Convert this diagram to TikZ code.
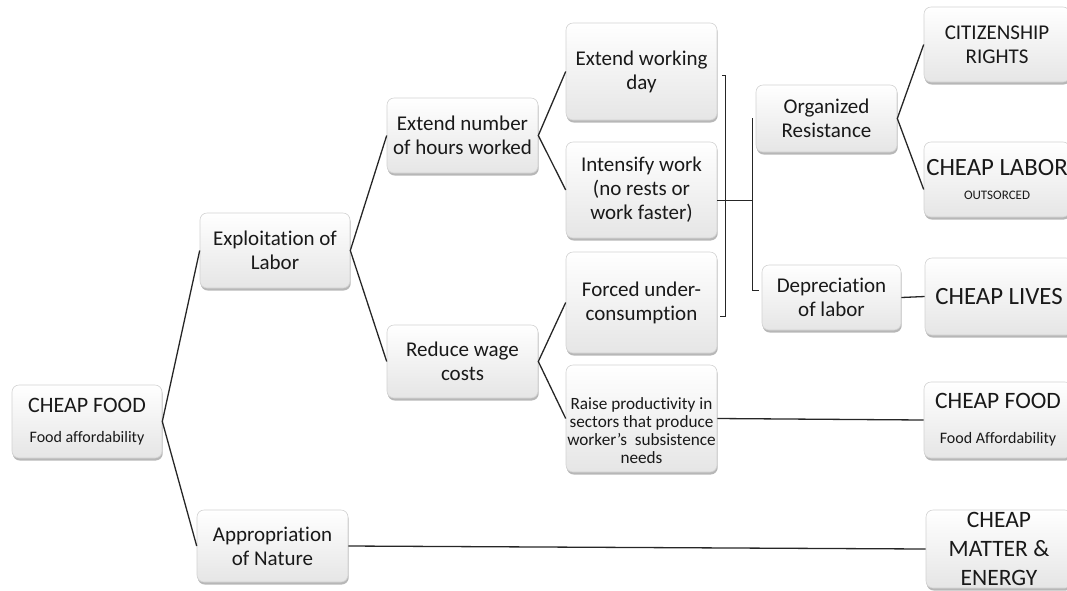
\documentclass[tikz,border=0pt]{standalone}
\usepackage{fontspec}
\setmainfont{Carlito}[Ligatures=NoCommon]
\usetikzlibrary{shadows}

\begin{document}
\begin{tikzpicture}[x=1pt,y=-1pt,
  box/.style={draw=gray!35, line width=0.6pt, rounded corners=7pt,
    top color=white, bottom color=gray!20,
    drop shadow={shadow xshift=0.7pt, shadow yshift=-2.5pt, opacity=0.4, fill=black!70},
    align=center, inner sep=0pt, text=black!90, font=\fontsize{21}{24}\selectfont},
  wh/.style 2 args={minimum width=#1pt, minimum height=#2pt},
  big/.style={font=\fontsize{23.5}{29}\selectfont},
  link/.style={draw=black!85, line width=1.3pt},
  brace/.style={draw=black!85, line width=0.9pt}]

% Frame of the picture
\useasboundingbox (0,0) rectangle (1067,590);
\clip (0,0) rectangle (1067,590);

% Root
\node[box, wh={150}{73}, font=\fontsize{16}{30}\selectfont] (food) at (87,421.5)
  {{\fontsize{22}{30}\selectfont CHEAP FOOD}\\Food affordability};

% First level
\node[box, wh={150}{75}] (exploit) at (275,250.5) {Exploitation of\\Labor};
\node[box, wh={151}{72}] (approp) at (272.5,546) {Appropriation\\of Nature};

% Second level
\node[box, wh={151}{75}] (hours) at (462.5,135.5) {Extend number\\of hours worked};
\node[box, wh={151}{73}] (wage) at (462.5,361.5) {Reduce wage\\costs};

% Third level
\node[box, wh={151}{97}] (workday) at (641.5,71.5) {Extend working\\day};
\node[box, wh={151}{96}] (intensify) at (641.5,190) {Intensify work\\(no rests or\\work faster)};
\node[box, wh={151}{101}] (forced) at (641.5,302.5) {Forced under-\\consumption};
\node[box, wh={151}{107}, font=\fontsize{17.2}{18}\selectfont] (raise) at (641.5,418.5)
  {\rule{0pt}{36pt}Raise productivity in\\sectors that produce\\worker’s~~subsistence\\needs};

% Fourth level
\node[box, wh={141}{67}] (organized) at (826.5,118.5) {Organized\\Resistance};
\node[box, wh={139}{65}] (deprec) at (831.5,297.5) {Depreciation\\of labor};

% Outcomes (cut by the right edge)
\node[box, wh={146}{75}] (citizen) at (997,44.5) {CITIZENSHIP\\RIGHTS};
\node[box, wh={146}{75}, font=\fontsize{13}{24}\selectfont] (labor) at (997,179.5)
  {{\fontsize{24.8}{24}\selectfont CHEAP LABOR}\\OUTSORCED};
\node[box, wh={148}{77}, font=\fontsize{24.8}{29}\selectfont] (lives) at (999,296.5) {CHEAP LIVES};
\node[box, wh={148}{76}, font=\fontsize{16}{35}\selectfont] (cfood) at (998,420)
  {{\fontsize{23.5}{35}\selectfont CHEAP FOOD}\\Food Affordability};
\node[box, big, wh={146}{78}] (matter) at (999,549) {CHEAP\\MATTER \&\\ENERGY};

% Tree branches
\draw[link] (exploit.west) -- (food.east) -- (approp.west);
\draw[link] (hours.west) -- (exploit.east) -- (wage.west);
\draw[link] (workday.west) -- (hours.east) -- (intensify.west);
\draw[link] (forced.west) -- (wage.east) -- (raise.west);
\draw[link] (citizen.west) -- (organized.east) -- ([yshift=-10pt]labor.west);

% Straight links
\draw[link] (deprec.east) -- (lives.west);
\draw[link] (raise.east) -- (cfood.west);
\draw[link] (approp.east) -- (matter.west);

% Brackets
\coordinate (b1) at (725,0);
\coordinate (b2) at (752,0);
\coordinate (tday) at ([xshift=5pt,yshift=-3.5pt]workday.east);
\coordinate (tforced) at ([xshift=3pt,yshift=-14pt]forced.east);
\coordinate (tint) at ([yshift=-10pt]intensify.east);
\coordinate (torg) at ([xshift=-3pt]organized.west);
\coordinate (tdep) at ([xshift=-3pt,yshift=7pt]deprec.west);
\draw[brace] (tday) -- (b1 |- tday) -- (b1 |- tforced) -- (tforced);
\draw[brace] (tint) -- (b2 |- tint);
\draw[brace] (torg) -- (b2 |- torg) -- (b2 |- tdep) -- (tdep);

\end{tikzpicture}
\end{document}
